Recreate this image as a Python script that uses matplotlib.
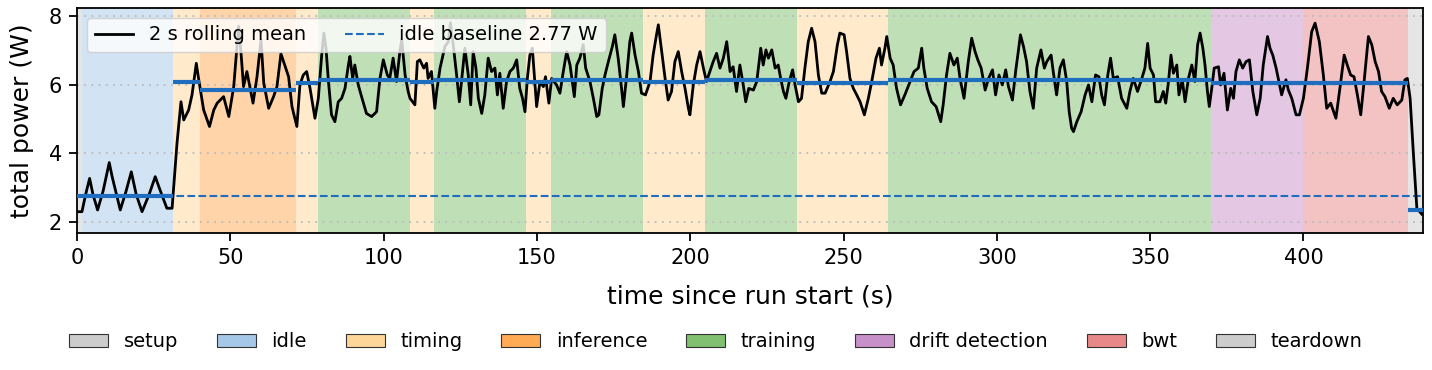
import matplotlib
matplotlib.use("Agg")
import matplotlib.pyplot as plt
from matplotlib.patches import Patch

# phase timeline (s) and per-phase mean power (W)
phase_kind = ['setup', 'idle', 'timing', 'inference', 'timing', 'training', 'timing',
              'training', 'timing', 'training', 'timing', 'training', 'timing',
              'training', 'drift detection', 'bwt', 'teardown']
phase_start = [0.0, 1.5, 31.4, 40.1, 71.4, 78.6, 108.6, 116.4, 146.4, 154.6, 184.6,
               204.8, 234.8, 264.5, 370.0, 399.8, 434.0]
phase_end = phase_start[1:] + [439.0]
phase_mean = [2.77, 2.77, 6.07, 5.84, 6.06, 6.14, 6.09, 6.14, 6.09, 6.14, 6.07,
              6.13, 6.06, 6.14, 6.04, 6.04, 2.36]

idle_baseline = 2.77

legend_kinds = ['setup', 'idle', 'timing', 'inference', 'training',
                'drift detection', 'bwt', 'teardown']

# 2 s rolling mean of total power
trace_t = [0.0, 1.6, 2.8, 4.1, 5.2, 6.7, 8.5, 10.5, 11.5, 12.5, 14.1, 16.0, 17.7, 19.3,
           21.2, 23.5, 25.5, 27.2, 29.3, 31.0, 32.6, 33.9, 34.8, 36.4, 37.5, 38.9,
           39.7, 41.3, 43.2, 44.6, 45.7, 47.8, 49.5, 51.1, 52.7, 53.5, 54.3, 55.4,
           57.4, 58.7, 60.0, 60.9, 62.5, 64.1, 65.2, 66.5, 67.9, 69.0, 70.1, 71.7,
           72.7, 73.8, 74.9, 76.0, 77.6, 78.7, 79.8, 80.5, 81.2, 82.0, 83.0, 84.1,
           85.2, 86.3, 87.4, 88.5, 89.0, 89.9, 90.6, 91.7, 92.8, 94.4, 96.1, 97.7,
           98.8, 99.9, 101.2, 102.0, 103.1, 104.2, 105.3, 105.9, 107.0, 108.0, 108.6,
           110.2, 111.0, 111.8, 113.1, 114.0, 114.5, 115.6, 116.7, 117.3, 118.4,
           120.0, 121.1, 121.8, 122.7, 123.8, 124.7, 125.4, 126.5, 127.6, 128.4,
           129.2, 130.1, 130.9, 132.0, 133.0, 134.1, 135.2, 136.3, 137.1, 137.9,
           139.0, 140.1, 141.2, 142.3, 143.4, 144.4, 145.3, 146.1, 146.9, 147.7,
           148.5, 149.9, 151.0, 152.1, 152.8, 153.9, 154.8, 156.4, 157.5, 158.6,
           159.7, 160.8, 162.2, 163.0, 164.0, 165.1, 165.9, 167.3, 168.4, 169.5,
           170.2, 171.3, 172.2, 173.3, 174.6, 175.4, 176.5, 177.6, 178.2, 179.3,
           180.3, 180.9, 182.0, 183.1, 184.1, 185.4, 186.9, 187.9, 189.0, 189.6,
           190.7, 191.8, 192.8, 193.9, 195.0, 196.1, 197.2, 198.3, 199.4, 199.9,
           201.0, 202.1, 203.2, 204.3, 205.3, 206.4, 207.5, 208.6, 209.7, 210.8,
           211.9, 213.0, 214.0, 215.1, 216.2, 217.3, 218.1, 219.1, 220.6, 221.7,
           223.0, 223.8, 224.7, 225.5, 226.6, 227.7, 228.7, 229.5, 230.4, 231.2,
           232.3, 233.4, 234.2, 235.3, 236.3, 237.4, 238.5, 239.6, 240.7, 241.8,
           242.9, 244.0, 245.6, 246.7, 248.0, 248.8, 250.2, 251.0, 252.1, 253.2,
           254.3, 255.4, 256.8, 258.1, 259.2, 260.6, 261.7, 262.4, 263.5, 264.1,
           265.2, 266.2, 267.3, 268.6, 270.0, 271.5, 273.0, 274.4, 275.5, 276.2,
           277.3, 278.7, 280.2, 281.7, 282.5, 283.6, 284.7, 286.0, 287.1, 288.0,
           289.3, 290.7, 291.8, 292.9, 293.8, 294.9, 296.2, 297.3, 298.6, 299.6,
           300.7, 301.8, 302.9, 303.8, 305.1, 306.2, 307.0, 307.7, 308.7, 309.7,
           310.8, 311.9, 313.0, 314.4, 315.5, 316.3, 317.7, 318.4, 319.5, 320.6,
           321.7, 322.8, 323.6, 324.4, 325.0, 326.1, 327.5, 328.8, 329.9, 331.0,
           332.2, 333.3, 334.2, 335.1, 336.2, 337.1, 338.0, 339.4, 340.7, 342.4,
           343.4, 344.5, 345.9, 347.3, 348.3, 349.2, 350.0, 351.1, 351.8, 353.2,
           354.3, 355.1, 356.0, 356.8, 357.6, 358.7, 359.4, 360.5, 361.4, 362.5,
           363.6, 364.6, 365.5, 366.3, 367.2, 367.9, 368.7, 369.3, 370.1, 370.9,
           372.3, 373.0, 374.1, 375.2, 376.3, 377.2, 378.0, 379.1, 380.2, 381.3,
           382.4, 383.5, 384.8, 385.9, 386.9, 388.3, 389.1, 390.0, 391.1, 391.8,
           392.9, 394.3, 395.1, 396.2, 397.6, 398.7, 400.0, 401.3, 402.7, 403.8,
           405.2, 406.5, 407.6, 408.9, 410.6, 411.9, 413.3, 414.3, 415.4, 416.5,
           417.6, 418.7, 419.8, 421.2, 422.3, 423.4, 424.5, 425.5, 426.6, 428.0,
           429.3, 430.6, 432.1, 433.1, 433.9, 434.8, 435.9, 437.0, 438.6]
trace_w = [2.30, 2.30, 2.80, 3.27, 2.80, 2.35, 2.90, 3.73, 3.30, 2.93, 2.35, 2.90, 3.46, 2.80,
           2.30, 2.80, 3.32, 2.90, 2.40, 2.40, 4.29, 5.50, 4.97, 5.26, 5.70, 6.62,
           6.14, 5.26, 4.78, 5.26, 5.46, 5.65, 5.07, 5.94, 7.70, 6.90, 5.94, 6.38,
           5.46, 6.23, 7.30, 6.04, 5.31, 5.65, 5.94, 6.90, 6.52, 6.23, 5.36, 4.78,
           6.00, 6.28, 6.38, 5.89, 5.02, 5.60, 6.86, 7.50, 7.06, 6.09, 5.12, 4.92,
           5.50, 5.60, 5.89, 6.57, 6.82, 6.18, 6.57, 6.00, 5.65, 5.16, 5.07, 5.21,
           6.18, 6.72, 6.28, 6.18, 6.77, 6.09, 6.96, 7.30, 6.28, 5.80, 5.60,
           5.41, 6.67, 6.72, 6.48, 6.62, 6.18, 6.38, 5.31, 5.80, 6.48,
           7.11, 7.25, 7.80, 7.16, 6.28, 5.50, 6.09, 7.06, 6.28, 5.41,
           6.96, 6.48, 5.60, 5.16, 5.70, 6.77, 6.38, 6.48, 5.70, 6.33,
           5.31, 6.09, 6.38, 6.48, 6.72, 5.89, 5.60, 5.21, 6.20, 6.86,
           7.06, 5.36, 6.09, 5.94, 6.23, 5.46, 6.18, 5.99, 5.75, 6.38,
           6.96, 6.57, 5.65, 6.57, 6.77, 7.16, 6.48, 6.09, 5.60, 5.07,
           5.12, 5.89, 6.28, 6.67, 7.11, 7.45, 6.77, 5.89, 5.36, 6.28,
           7.25, 7.50, 6.86, 6.38, 5.75, 5.70, 6.09, 6.86, 7.45, 7.74,
           6.96, 6.18, 5.55, 5.80, 6.67, 6.96, 6.38, 5.89, 5.31, 5.12,
           5.99, 6.57, 6.96, 6.48, 6.09, 6.38, 6.67, 6.91, 6.48, 6.77,
           7.25, 6.38, 6.52, 5.80, 6.57, 5.99, 5.50, 5.89, 5.84, 6.09,
           7.06, 6.57, 7.01, 6.77, 7.01, 6.48, 6.57, 6.18, 5.80, 5.60,
           6.09, 6.43, 5.99, 5.50, 5.60, 6.48, 7.25, 7.64, 7.25, 6.28,
           5.75, 5.75, 6.09, 6.38, 7.16, 7.50, 7.45, 6.96, 6.18, 5.89,
           5.70, 5.50, 5.12, 5.60, 6.09, 6.77, 7.06, 6.57, 7.06, 7.40,
           6.77, 6.57, 5.89, 5.41, 5.70, 6.04, 6.38, 6.48, 7.06, 6.48,
           5.89, 5.50, 5.36, 4.92, 5.41, 6.28, 6.91, 6.57, 6.77, 6.18,
           5.60, 6.67, 7.35, 6.96, 6.72, 6.48, 5.84, 6.18, 6.43, 5.70,
           6.28, 5.99, 6.43, 5.94, 5.55, 6.43, 6.96, 7.45, 7.11, 6.67,
           5.80, 5.31, 6.48, 7.01, 6.48, 6.67, 6.86, 6.38, 5.70, 6.48,
           6.72, 6.09, 5.21, 4.73, 4.63, 4.92, 5.21, 5.70, 5.99, 5.50,
           6.28, 6.23, 5.70, 5.41, 6.28, 6.77, 6.18, 6.23, 5.60, 5.31,
           5.80, 6.18, 5.80, 6.18, 6.48, 7.20, 6.48, 6.28, 5.50, 5.50,
           5.80, 5.46, 6.09, 6.86, 6.33, 6.57, 5.70, 6.14, 5.50, 6.18,
           6.57, 6.09, 7.16, 7.50, 7.06, 6.57, 5.80, 5.36, 5.89, 6.48,
           6.52, 5.99, 6.33, 5.26, 5.89, 5.60, 6.38, 6.72, 6.48, 6.67,
           6.72, 5.80, 5.12, 5.60, 6.57, 7.40, 7.06, 6.86, 6.48, 6.18,
           5.70, 6.14, 5.84, 5.60, 5.12, 5.12, 5.60, 6.48, 7.54, 7.79,
           7.25, 6.28, 5.31, 5.46, 5.02, 5.89, 6.86, 6.57, 6.28, 6.23,
           5.70, 5.12, 6.09, 7.40, 7.16, 6.67, 6.38, 5.80, 5.65, 5.31,
           5.60, 5.41, 5.55, 6.14, 6.18, 5.60, 3.95, 2.40, 2.23]

colors = {'setup': '#cccccc', 'idle': '#a6c8e8', 'timing': '#ffd699',
          'inference': '#ffaa55', 'training': '#80c070',
          'drift detection': '#c890c8', 'bwt': '#e88888', 'teardown': '#cccccc'}
blue = '#1f6dbf'

fig = plt.figure(figsize=(14.32, 3.70), dpi=100)
ax = fig.add_axes([0.0538, 0.3703, 0.9399, 0.6081])

# phase background + per-phase mean
for kind, t0, t1, m in zip(phase_kind, phase_start, phase_end, phase_mean):
    ax.axvspan(t0, t1, color=colors[kind], alpha=0.5, lw=0, zorder=0)
    ax.plot([t0, t1], [m, m], color=blue, lw=3.0, solid_capstyle='butt', zorder=4)

ax.plot(trace_t, trace_w, color='black', lw=2.0, zorder=3, label='2 s rolling mean')
ax.axhline(idle_baseline, color=blue, lw=1.5, ls='--', zorder=2,
           label=f'idle baseline {idle_baseline:.2f} W')

ax.set_xlim(0, 439)
ax.set_ylim(1.68, 8.23)
ax.set_yticks([2, 4, 6, 8])
ax.set_xticks(range(0, 401, 50))
ax.grid(axis='y', ls=(0, (1, 3)), color='#bbbbbb', lw=1.3)
ax.set_axisbelow(True)
ax.tick_params(labelsize=15, width=1.3, length=6, pad=5)
for s in ax.spines.values():
    s.set_linewidth(1.3)
ax.set_xlabel('time since run start (s)', fontsize=18, labelpad=12)
ax.set_ylabel('total power (W)', fontsize=18, labelpad=10)

ax.legend(loc='upper left', ncol=2, fontsize=14, framealpha=0.8)

handles = [Patch(facecolor=colors[k], edgecolor='#333333', lw=0.8, label=k)
           for k in legend_kinds]
fig.legend(handles=handles, loc='center', bbox_to_anchor=(0.5, 0.076),
           ncol=len(handles), fontsize=14, frameon=False)

fig.savefig('out.png', dpi=100)
